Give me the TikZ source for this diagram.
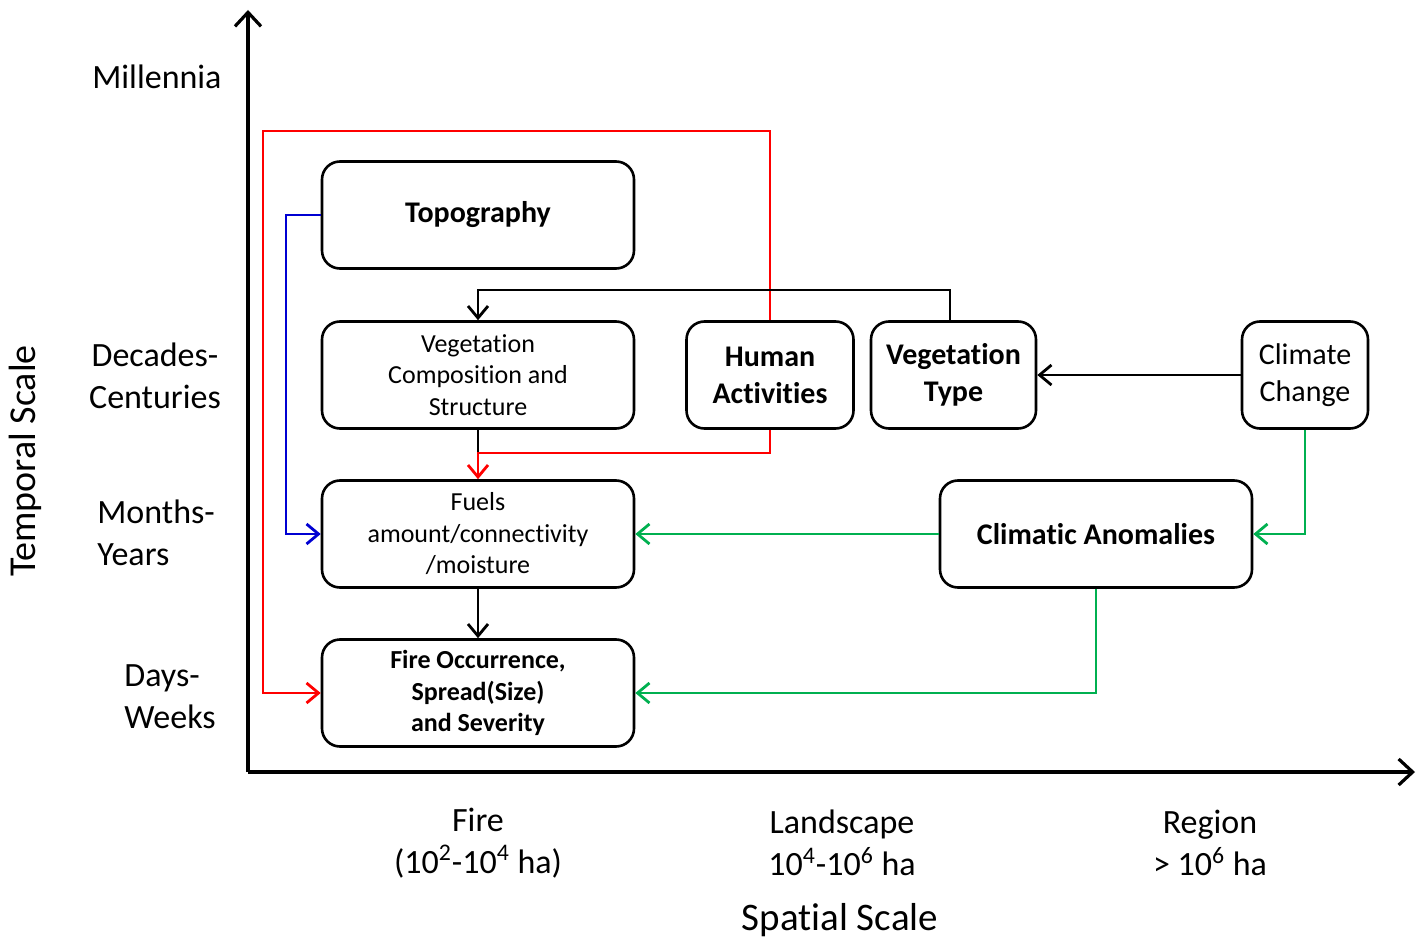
\documentclass[tikz,border=0pt]{standalone}
\usepackage{fontspec}
\setmainfont{Carlito}[Ligatures=NoCommon]
\usetikzlibrary{arrows.meta}
\definecolor{fred}{RGB}{255,0,0}
\definecolor{fblue}{RGB}{0,0,210}
\definecolor{fgreen}{RGB}{0,176,80}
\begin{document}
\begin{tikzpicture}[x=0.5pt,y=-0.5pt,
  box/.style={draw, line width=1.3pt, rounded corners=9pt, align=center, inner sep=0pt, minimum height=53.5pt},
  smalltxt/.style={font=\fontsize{13}{15.75}\selectfont},
  bigbold/.style={font=\fontsize{15}{18.5}\selectfont\bfseries},
  smallbold/.style={font=\fontsize{13}{15.75}\selectfont\bfseries},
  bignorm/.style={font=\fontsize{15}{18.5}\selectfont},
  axlab/.style={font=\fontsize{17}{21}\selectfont, inner sep=0pt},
  conn/.style={line width=1.4pt, -{Straight Barb[length=6pt,width=10pt,line width=1.4pt]}},
  plain/.style={line width=1.4pt},
  axis/.style={line width=1.6pt, -{Straight Barb[length=7pt,width=13pt,line width=1.6pt]}}
]
\useasboundingbox (0,0) rectangle (1424,941);

% axes
\coordinate (O) at (248,772);
\coordinate (ytop) at (248,10);
\coordinate (xend) at (1415,772);
\draw[axis] (O) -- (ytop);
\draw[axis] (O) -- (xend);

% boxes
\node[box, bigbold, minimum width=156pt] (topo) at (478,215) {Topography};
\node[box, smalltxt, minimum width=156pt] (vcomp) at (478,375) {Vegetation\\Composition and\\Structure};
\node[box, bigbold, minimum width=83.5pt] (human) at (770,375) {Human\\Activities};
\node[box, bigbold, minimum width=82.5pt] (vtype) at (953.5,375) {Vegetation\\Type};
\node[box, bignorm, minimum width=63pt] (cc) at (1305,375) {Climate\\Change};
\node[box, smalltxt, minimum width=156pt] (fuels) at (478,534) {Fuels\\amount/connectivity\\/moisture};
\node[box, bigbold, minimum width=156pt] (anom) at (1096,534) {Climatic Anomalies};
\node[box, smallbold, minimum width=156pt] (fire) at (478,693) {Fire Occurrence,\\Spread(Size)\\and Severity};

% connectors
\coordinate (j1) at (478,453);
\draw[plain] (vcomp.south) -- (j1);
\draw[conn, fred] (human.south) |- (j1) -- (fuels.north);
\draw[conn, fred] (human.north) -- (770,131) -- (263,131) |- (fire.west);
\draw[conn] (vtype.north -| 950,0) -- (950,290) -| (vcomp.north);
\draw[conn, fblue] (topo.west) -- (286,215) |- (fuels.west);
\draw[conn] (cc.west) -- (vtype.east);
\draw[conn, fgreen] (cc.south) |- (anom.east);
\draw[conn, fgreen] (anom.west) -- (fuels.east);
\draw[conn, fgreen] (anom.south) |- (fire.east);
\draw[conn] (fuels.south) -- (fire.north);

% axis labels
\node[axlab, anchor=east] (mill) at (222,77) {Millennia};
\node[axlab, align=center] (dec) at (155,376) {Decades-\\Centuries};
\node[axlab, align=left, anchor=west] (months) at (97,533) {Months-\\Years};
\node[axlab, align=left, anchor=west] (days) at (124,697) {Days-\\Weeks};
\node[font=\fontsize{19}{23}\selectfont, rotate=90, inner sep=0pt] (temporal) at (25,461) {Temporal Scale};
\node[axlab, align=center] (xfire) at (478,843) {Fire\\(10\textsuperscript{2}-10\textsuperscript{4} ha)};
\node[axlab, align=center] (xland) at (842,843) {Landscape\\10\textsuperscript{4}-10\textsuperscript{6} ha};
\node[axlab, align=center] (xreg) at (1210,843) {Region\\> 10\textsuperscript{6} ha};
\node[font=\fontsize{19.5}{23}\selectfont, inner sep=0pt] (spatial) at (840,920) {Spatial Scale};
\end{tikzpicture}
\end{document}
